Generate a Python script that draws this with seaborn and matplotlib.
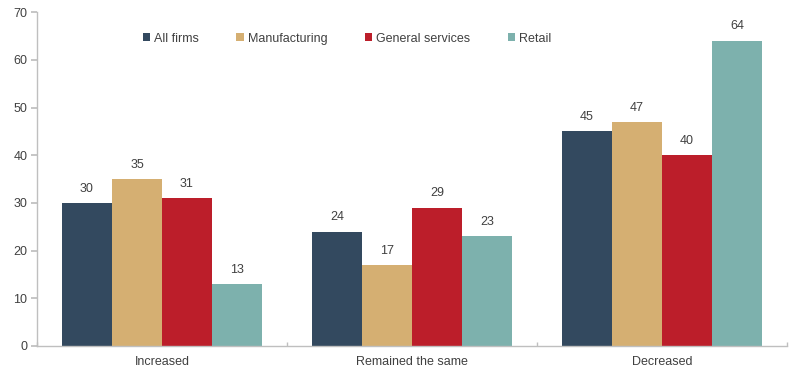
import matplotlib
matplotlib.use("Agg")
import matplotlib.pyplot as plt
import seaborn as sns
import pandas as pd

categories = ["Increased", "Remained the same", "Decreased"]
series = ["All firms", "Manufacturing", "General services", "Retail"]
all_firms = [30, 24, 45]
manufacturing = [35, 17, 47]
general_services = [31, 29, 40]
retail = [13, 23, 64]
colors = ["#33495F", "#D5AF72", "#BC1E2A", "#7DB1AD"]

rows = []
for s, vals in zip(series, [all_firms, manufacturing, general_services, retail]):
    for c, v in zip(categories, vals):
        rows.append({"cat": c, "series": s, "value": v})
df = pd.DataFrame(rows)

sns.set_theme(style="white")
plt.rcParams["font.family"] = ["Liberation Sans", "DejaVu Sans"]

fig = plt.figure(figsize=(7.92, 3.68), dpi=100)
ax = fig.add_axes([0.0467, 0.0598, 0.947, 0.907])
sns.barplot(data=df, x="cat", y="value", hue="series", order=categories,
            hue_order=series, palette=colors, width=0.8, saturation=1,
            edgecolor="none", ax=ax, legend=True)

for cont in ax.containers:
    ax.bar_label(cont, fmt="%d", padding=6, fontsize=9, color="#404040")

ax.set_xlim(-0.5, 2.5)
ax.set_ylim(0, 70)
ax.set_yticks(range(0, 71, 10))
ax.set_xlabel("")
ax.set_ylabel("")
for sp in ["top", "right"]:
    ax.spines[sp].set_visible(False)
for sp in ["left", "bottom"]:
    ax.spines[sp].set_color("#BFBFBF")
    ax.spines[sp].set_linewidth(1)
ax.tick_params(axis="y", left=True, length=4, color="#BFBFBF", labelsize=9,
               labelcolor="#404040", pad=3)
ax.tick_params(axis="x", which="major", bottom=False, length=0, labelsize=9,
               labelcolor="#404040", pad=7)
ax.set_xticks([-0.5, 0.5, 1.5, 2.5], minor=True)
ax.tick_params(axis="x", which="minor", bottom=True, length=3, direction="in",
               color="#BFBFBF")

leg = ax.legend(loc="upper left", bbox_to_anchor=(0.126, 0.972), ncol=4,
                frameon=False, fontsize=9, handlelength=0.6, handleheight=0.6,
                handletextpad=0.3, columnspacing=3.0)
for t in leg.get_texts():
    t.set_color("#404040")

fig.savefig("out.png", dpi=100)
